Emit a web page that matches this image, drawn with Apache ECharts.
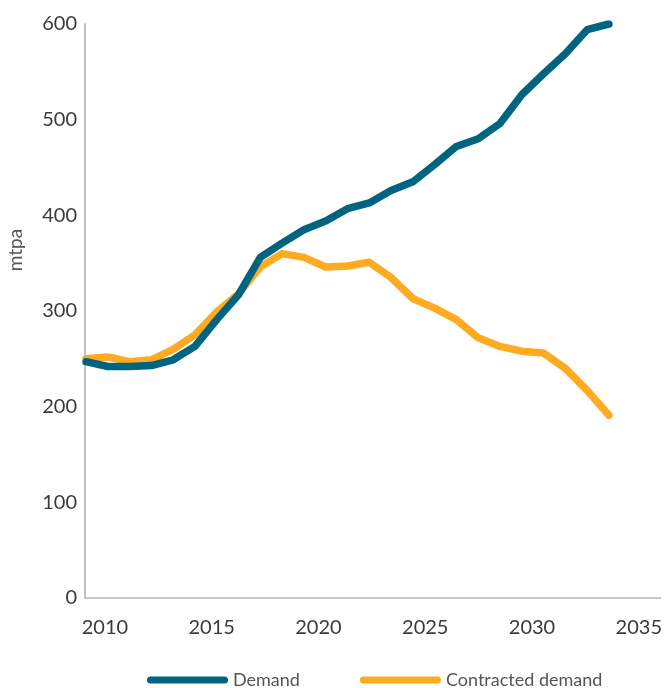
<!DOCTYPE html>
<html>
<head>
<meta charset="utf-8">
<script src="https://cdn.jsdelivr.net/npm/echarts@6/dist/echarts.min.js"></script>
<style>
  html, body { margin: 0; padding: 0; background: #fff; }
  #chart { width: 665px; height: 688px; }
</style>
</head>
<body>
<div id="chart"></div>
<script>
const years = [2009, 2010, 2011, 2012, 2013, 2014, 2015, 2016, 2017, 2018, 2019, 2020, 2021,
               2022, 2023, 2024, 2025, 2026, 2027, 2028, 2029, 2030, 2031, 2032, 2033];
const demand = [247, 242, 242, 243, 249, 263, 291, 317, 356, 371, 385, 394, 407,
                413, 426, 435, 453, 472, 480, 496, 526, 548, 569, 594, 600];
const contracted = [250, 252, 247, 249, 260, 275, 299, 318, 346, 360, 356, 346, 347,
                    351, 335, 313, 303, 291, 272, 263, 258, 256, 240, 217, 191];
const xTickLabels = [2010, 2015, 2020, 2025, 2030, 2035];
const yTickLabels = [0, 100, 200, 300, 400, 500, 600];
const seriesNames = ['Demand', 'Contracted demand'];

const BLUE = '#006480';
const ORANGE = '#fdab20';
const FONT = 'Lato, "Noto Sans", sans-serif';

const chart = echarts.init(document.getElementById('chart'));
const capsule = 'path://M3.5,0 L77.5,0 A3.5,3.5 0 0 1 77.5,7 L3.5,7 A3.5,3.5 0 0 1 3.5,0 Z';

chart.setOption({
  animation: false,
  backgroundColor: '#fff',
  grid: { left: 85, right: 2, top: 24, bottom: 90, containLabel: false },
  legend: {
    top: 671,
    left: 147,
    padding: 0,
    itemWidth: 81,
    itemHeight: 7,
    itemGap: 60,
    data: [
      { name: seriesNames[0], icon: capsule },
      { name: seriesNames[1], icon: capsule }
    ],
    textStyle: { fontFamily: FONT, fontSize: 18, color: '#555' }
  },
  graphic: [{
    type: 'text',
    x: 16, y: 250,
    rotation: Math.PI / 2,
    style: { text: 'mtpa', font: '19px ' + FONT, fill: '#555', align: 'center', verticalAlign: 'middle' }
  }],
  xAxis: [{
    type: 'value',
    min: 2009.067,
    max: 2036.026,
    axisLine: { show: true, lineStyle: { color: '#b8b8b8', width: 1.5 } },
    axisTick: { show: false },
    splitLine: { show: false },
    axisLabel: {
      customValues: xTickLabels,
      margin: 20,
      fontFamily: FONT,
      fontSize: 20,
      color: '#3a3a3a',
      formatter: v => String(v)
    }
  }, {
    type: 'value',
    min: 2008.954,
    max: 2035.377,
    show: false
  }],
  yAxis: {
    type: 'value',
    min: 0,
    max: 600,
    interval: 100,
    axisLine: { show: true, lineStyle: { color: '#c0c0c0', width: 2 } },
    axisTick: { show: false },
    splitLine: { show: false },
    axisLabel: {
      customValues: yTickLabels,
      margin: 8,
      fontFamily: FONT,
      fontSize: 20,
      color: '#3a3a3a'
    }
  },
  series: [
    {
      name: seriesNames[1],
      type: 'line',
      xAxisIndex: 1,
      data: years.map((y, i) => [y, contracted[i]]),
      symbol: 'none',
      color: ORANGE,
      lineStyle: { color: ORANGE, width: 7.5, cap: 'round', join: 'round' },
      z: 2
    },
    {
      name: seriesNames[0],
      type: 'line',
      xAxisIndex: 1,
      data: years.map((y, i) => [y, demand[i]]),
      symbol: 'none',
      color: BLUE,
      lineStyle: { color: BLUE, width: 7.5, cap: 'round', join: 'round' },
      z: 3
    }
  ]
});
</script>
</body>
</html>
